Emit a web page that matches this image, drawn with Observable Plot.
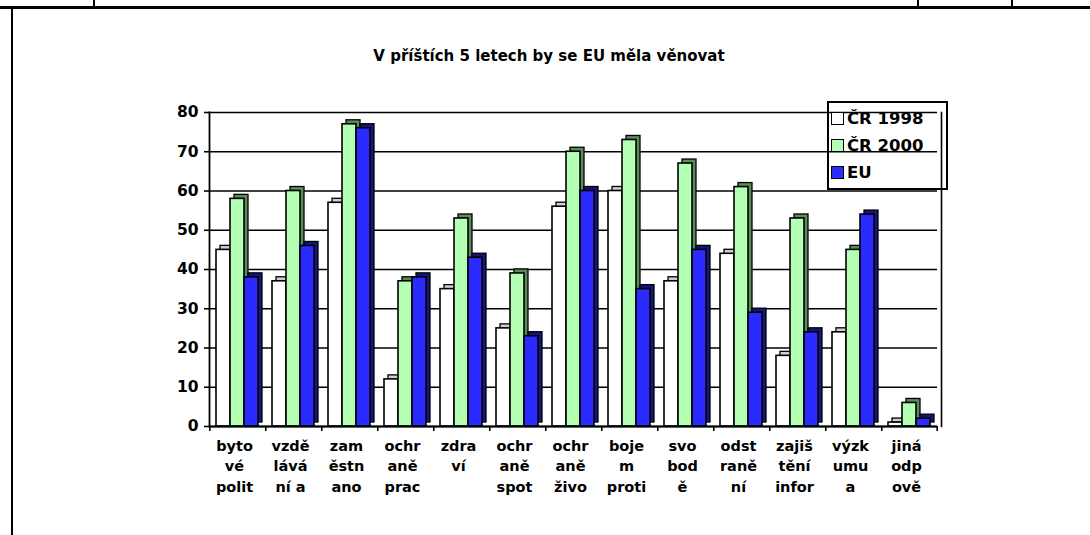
<!DOCTYPE html>
<html>
<head>
<meta charset="utf-8">
<script src="https://cdn.jsdelivr.net/npm/d3@7"></script>
<script src="https://cdn.jsdelivr.net/npm/@observablehq/plot@0.6"></script>
<style>
  html, body { margin: 0; padding: 0; background: #fff; }
  #page { position: relative; width: 1090px; height: 535px; overflow: hidden; background: #fff;
          font-family: "DejaVu Sans", "Liberation Sans", Arial, sans-serif; font-weight: bold; color: #000; }
  #chart { position: absolute; left: 0; top: 0; }
  .hl { position: absolute; background: #000; }
  #title { position: absolute; left: 0; width: 1098px; top: 47px; text-align: center; font-size: 15px; }
  #legend { position: absolute; left: 827px; top: 101px; width: 117px; height: 85px; border: 2px solid #000; }
  .li { position: absolute; left: 2px; display: flex; align-items: center; font-size: 16.5px; }
  .sw { width: 13px; height: 13px; border: 1.5px solid #000; margin-right: 3px; box-sizing: border-box; }
</style>
</head>
<body>
<div id="page">
  <div class="hl" style="left:0;top:6px;width:1090px;height:3px"></div>
  <div class="hl" style="left:11px;top:7px;width:2px;height:528px"></div>
  <div class="hl" style="left:93px;top:0;width:1.5px;height:7px"></div>
  <div class="hl" style="left:917px;top:0;width:1.5px;height:7px"></div>
  <div class="hl" style="left:1011px;top:0;width:1.5px;height:7px"></div>
  <div id="title">V příštích 5 letech by se EU měla věnovat</div>
  <div id="chart"></div>
  <div id="legend"></div>
</div>
<script>
// ---- data ----
const categories = ["byto\nvé\npolit", "vzdě\nlává\nní a", "zam\něstn\nano", "ochr\naně\nprac", "zdra\nví",
  "ochr\naně\nspot", "ochr\naně\nživo", "boje\nm\nproti", "svo\nbod\ně", "odst\nraně\nní",
  "zajiš\ntění\ninfor", "výzk\numu\na", "jiná\nodp\nově"];
const series = ["ČR 1998", "ČR 2000", "EU"];
const cr1998 = [45, 37, 57, 12, 35, 25, 56, 60, 37, 44, 18, 24, 1];
const cr2000 = [58, 60, 77, 37, 53, 39, 70, 73, 67, 61, 53, 45, 6];
const eu     = [38, 46, 76, 38, 43, 23, 60, 35, 45, 29, 24, 54, 2];
const yTicks = [0, 10, 20, 30, 40, 50, 60, 70, 80];

// ---- styling ----
const fills = ["#ffffff", "#b3ffb3", "#2b2bff"];
const sides = ["#d0d0d0", "#5b8a5b", "#16167a"];

const values = [cr1998, cr2000, eu];
const rows = [];
series.forEach((s, i) => categories.forEach((c, j) => rows.push({cat: c, series: s, value: values[i][j]})));

const W = 1090, H = 535, mL = 203, mR = 148, mT = 112, mB = 109;
const pOuter = 0.43;
const facetW = (W - mL - mR) / categories.length;
const step = facetW / (series.length + 2 * pOuter);
const firstCenter = pOuter * step + step / 2;
const depth = 4;

const marks = [
  Plot.gridY(yTicks, {stroke: "#000", strokeOpacity: 1, strokeWidth: 1.6}),
  Plot.frame({anchor: "right", facetAnchor: "right", dx: 4, stroke: "#000", strokeWidth: 1.6}),
  Plot.frame({anchor: "left", facetAnchor: "left", stroke: "#000", strokeWidth: 1.8}),
];
series.forEach((s, i) => {
  marks.push(Plot.barY(rows.filter(d => d.series === s), {
    fx: "cat", x: "series", y: "value", fill: sides[i], stroke: "#000", strokeWidth: 1.3,
    dx: depth, dy: -depth
  }));
});
series.forEach((s, i) => {
  marks.push(Plot.barY(rows.filter(d => d.series === s), {
    fx: "cat", x: "series", y: "value", fill: fills[i], stroke: "#000", strokeWidth: 1.6
  }));
});
marks.push(
  Plot.ruleY([0], {stroke: "#000", strokeWidth: 2}),
  Plot.ruleX(categories, {fx: d => d, x: () => series[0], y1: 0, y2: -1.3, dx: -firstCenter, stroke: "#000", strokeWidth: 1.6}),
  Plot.ruleX(categories.slice(-1), {fx: d => d, x: () => series[series.length - 1], y1: 0, y2: -1.3, dx: firstCenter, stroke: "#000", strokeWidth: 1.6}),
  Plot.axisY(yTicks, {tickSize: 5, tickPadding: 6, fontSize: 15.5, fontWeight: "bold", strokeWidth: 1.6}),
  Plot.axisFx({anchor: "bottom", tickSize: 0, tickPadding: 10, fontSize: 14.5, fontWeight: "bold", lineHeight: 1.4, label: null, dx: -3})
);

const chart = Plot.plot({
  width: W, height: H,
  marginTop: mT, marginBottom: mB, marginLeft: mL, marginRight: mR,
  style: {fontFamily: "'DejaVu Sans', 'Liberation Sans', Arial, sans-serif", fontWeight: "bold", color: "#000", background: "transparent", overflow: "visible"},
  fx: {domain: categories, padding: 0, label: null},
  x: {domain: series, paddingInner: 0, paddingOuter: pOuter, axis: null},
  y: {domain: [0, 80], axis: null, label: null},
  marks
});
document.getElementById("chart").appendChild(chart);

// ---- legend ----
const legend = document.getElementById("legend");
const tops = [6, 33, 60];
series.forEach((s, i) => {
  const item = document.createElement("div");
  item.className = "li";
  item.style.top = tops[i] + "px";
  const sw = document.createElement("div");
  sw.className = "sw";
  sw.style.background = fills[i];
  const t = document.createElement("span");
  t.textContent = s;
  item.appendChild(sw);
  item.appendChild(t);
  legend.appendChild(item);
});
</script>
</body>
</html>
